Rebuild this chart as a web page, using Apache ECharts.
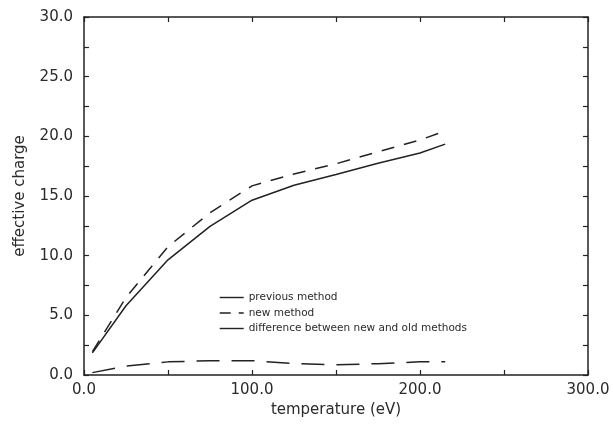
<!DOCTYPE html>
<html>
<head>
<meta charset="utf-8">
<script src="https://cdn.jsdelivr.net/npm/echarts@6/dist/echarts.min.js"></script>
<style>html,body{margin:0;padding:0;background:#fff;}#c{width:613px;height:425px;}</style>
</head>
<body>
<div id="c"></div>
<script>
const temperatures = [5, 25, 50, 75, 100, 125, 150, 175, 200, 215];
const previousMethod = [1.85, 5.8, 9.65, 12.45, 14.65, 15.9, 16.8, 17.75, 18.6, 19.35];
const newMethod = [1.95, 6.5, 10.75, 13.6, 15.85, 16.85, 17.7, 18.7, 19.7, 20.45];
const difference = [0.2, 0.75, 1.1, 1.2, 1.2, 0.95, 0.85, 0.95, 1.1, 1.1];
const seriesNames = ['previous method', 'new method', 'difference between new and old methods'];
const xTickLabels = [0, 100, 200, 300];
const yTickLabels = [0, 5, 10, 15, 20, 25, 30];

const pairs = ys => temperatures.map((t, i) => [t, ys[i]]);
const ink = '#222';
const labelColor = '#2a2a2a';
const font = 'DejaVu Sans, sans-serif';

const chart = echarts.init(document.getElementById('c'), null, {renderer: 'canvas'});
const lineCommon = {type: 'line', showSymbol: false, symbol: 'none', animation: false, smooth: false};
chart.setOption({
  backgroundColor: '#fff',
  animation: false,
  grid: {left: 84, right: 25, top: 17, bottom: 50, containLabel: false},
  legend: {
    orient: 'vertical', left: 214, top: 287, itemWidth: 24, itemHeight: 12, itemGap: 4.5,
    itemStyle: {opacity: 0},
    textStyle: {fontFamily: font, fontSize: 10.5, color: labelColor},
    data: [
      {name: seriesNames[0], lineStyle: {type: 'solid', width: 1.4, color: ink}},
      {name: seriesNames[1], lineStyle: {type: [11, 8], width: 1.4, color: ink}},
      {name: seriesNames[2], lineStyle: {type: 'solid', width: 1.4, color: ink}}
    ]
  },
  xAxis: [{
    type: 'value', min: 0, max: 300, interval: 50, position: 'bottom',
    name: 'temperature (eV)', nameLocation: 'middle', nameGap: 27,
    nameTextStyle: {fontFamily: font, fontSize: 15, color: labelColor},
    axisLine: {show: true, onZero: false, lineStyle: {color: ink, width: 1.5}},
    axisTick: {show: true, inside: true, length: 5, lineStyle: {color: ink, width: 1.2}},
    axisLabel: {fontFamily: font, fontSize: 15, color: labelColor, margin: 8,
      formatter: v => xTickLabels.includes(v) ? v.toFixed(1) : ''},
    splitLine: {show: false}
  }, {
    type: 'value', min: 0, max: 300, interval: 50, position: 'top',
    axisLine: {show: true, onZero: false, lineStyle: {color: ink, width: 1.5}},
    axisTick: {show: true, inside: true, length: 5, lineStyle: {color: ink, width: 1.2}},
    axisLabel: {show: false}, splitLine: {show: false}
  }],
  yAxis: [{
    type: 'value', min: 0, max: 30, interval: 2.5, position: 'left',
    name: 'effective charge', nameLocation: 'middle', nameGap: 56, nameRotate: 90,
    nameTextStyle: {fontFamily: font, fontSize: 15, color: labelColor},
    axisLine: {show: true, onZero: false, lineStyle: {color: ink, width: 1.5}},
    axisTick: {show: true, inside: true, length: 5, lineStyle: {color: ink, width: 1.2}},
    axisLabel: {fontFamily: font, fontSize: 15, color: labelColor, margin: 11,
      formatter: v => yTickLabels.includes(v) ? v.toFixed(1) : ''},
    splitLine: {show: false}
  }, {
    type: 'value', min: 0, max: 30, interval: 2.5, position: 'right',
    axisLine: {show: true, onZero: false, lineStyle: {color: ink, width: 1.5}},
    axisTick: {show: true, inside: true, length: 5, lineStyle: {color: ink, width: 1.2}},
    axisLabel: {show: false}, splitLine: {show: false}
  }],
  series: [
    Object.assign({}, lineCommon, {name: seriesNames[0], data: pairs(previousMethod),
      lineStyle: {color: ink, width: 1.5, type: 'solid'}, itemStyle: {color: ink}}),
    Object.assign({}, lineCommon, {name: seriesNames[1], data: pairs(newMethod),
      lineStyle: {color: ink, width: 1.5, type: [13, 10]}, itemStyle: {color: ink}}),
    Object.assign({}, lineCommon, {name: seriesNames[2], data: pairs(difference),
      lineStyle: {color: ink, width: 1.5, type: [23, 12]}, itemStyle: {color: ink}})
  ]
});
</script>
</body>
</html>
